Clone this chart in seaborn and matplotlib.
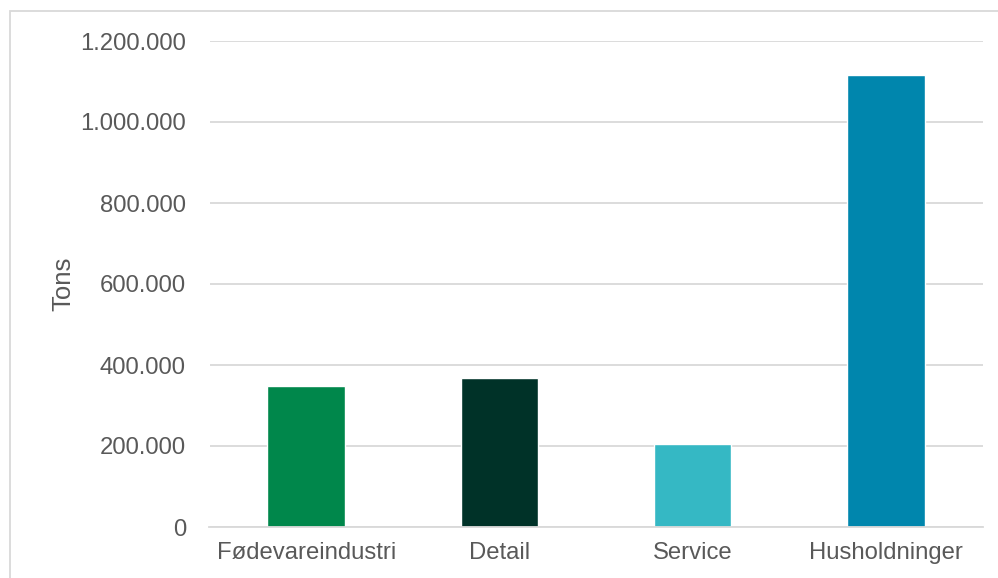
import matplotlib
matplotlib.use("Agg")
import matplotlib.pyplot as plt
import seaborn as sns
import pandas as pd
from matplotlib.patches import Rectangle
from matplotlib.ticker import FuncFormatter, FixedLocator

categories = ["Fødevareindustri", "Detail", "Service", "Husholdninger"]
values = [348000, 368000, 205000, 1116000]
colors = ["#00874B", "#003228", "#35B8C4", "#0086AD"]
yticks = [0, 200000, 400000, 600000, 800000, 1000000, 1200000]
ylabel = "Tons"

sns.set_theme(style="white")
plt.rcParams['font.family'] = ['Liberation Sans', 'DejaVu Sans']

df = pd.DataFrame({"cat": categories, "val": values})

fig = plt.figure(figsize=(9.98, 5.78), dpi=100)
ax = fig.add_axes([209.5 / 998, 51 / 578, (982.7 - 209.5) / 998, 486 / 578])

sns.barplot(data=df, x="cat", y="val", hue="cat", palette=colors, order=categories,
            hue_order=categories, width=0.40, legend=False, ax=ax, saturation=1)

ax.set_xlim(-0.5, 3.5)
ax.set_ylim(0, 1200000)
ax.set_yticks(yticks)
ax.yaxis.set_major_formatter(FuncFormatter(lambda v, p: f"{int(v):,}".replace(",", ".")))
ax.grid(axis="y", color="#D9D9D9", linewidth=1.3)
ax.set_axisbelow(True)

for s in ["top", "right", "left"]:
    ax.spines[s].set_visible(False)
ax.spines["bottom"].set_color("#D9D9D9")
ax.spines["bottom"].set_linewidth(1.3)

ax.tick_params(axis="y", length=0, pad=17, labelsize=17.2, labelcolor="#595959")
ax.tick_params(axis="x", which="major", length=0, pad=11, labelsize=17.2, labelcolor="#595959")
ax.xaxis.set_minor_locator(FixedLocator([-0.5, 0.5, 1.5, 2.5, 3.5]))
ax.tick_params(axis="x", which="minor", length=5, width=1.3, color="#D9D9D9", direction="out")

ax.set_xlabel("")
ax.set_ylabel(ylabel, fontsize=18.5, color="#595959")
ax.yaxis.set_label_coords(-0.174, 0.5)

fig.patches.append(Rectangle((10 / 998, -0.1), 1.2, 1 - 11 / 578 + 0.1, transform=fig.transFigure,
                             fill=False, edgecolor="#D9D9D9", linewidth=1.3, figure=fig))

fig.savefig("out.png", dpi=100, facecolor="white")
